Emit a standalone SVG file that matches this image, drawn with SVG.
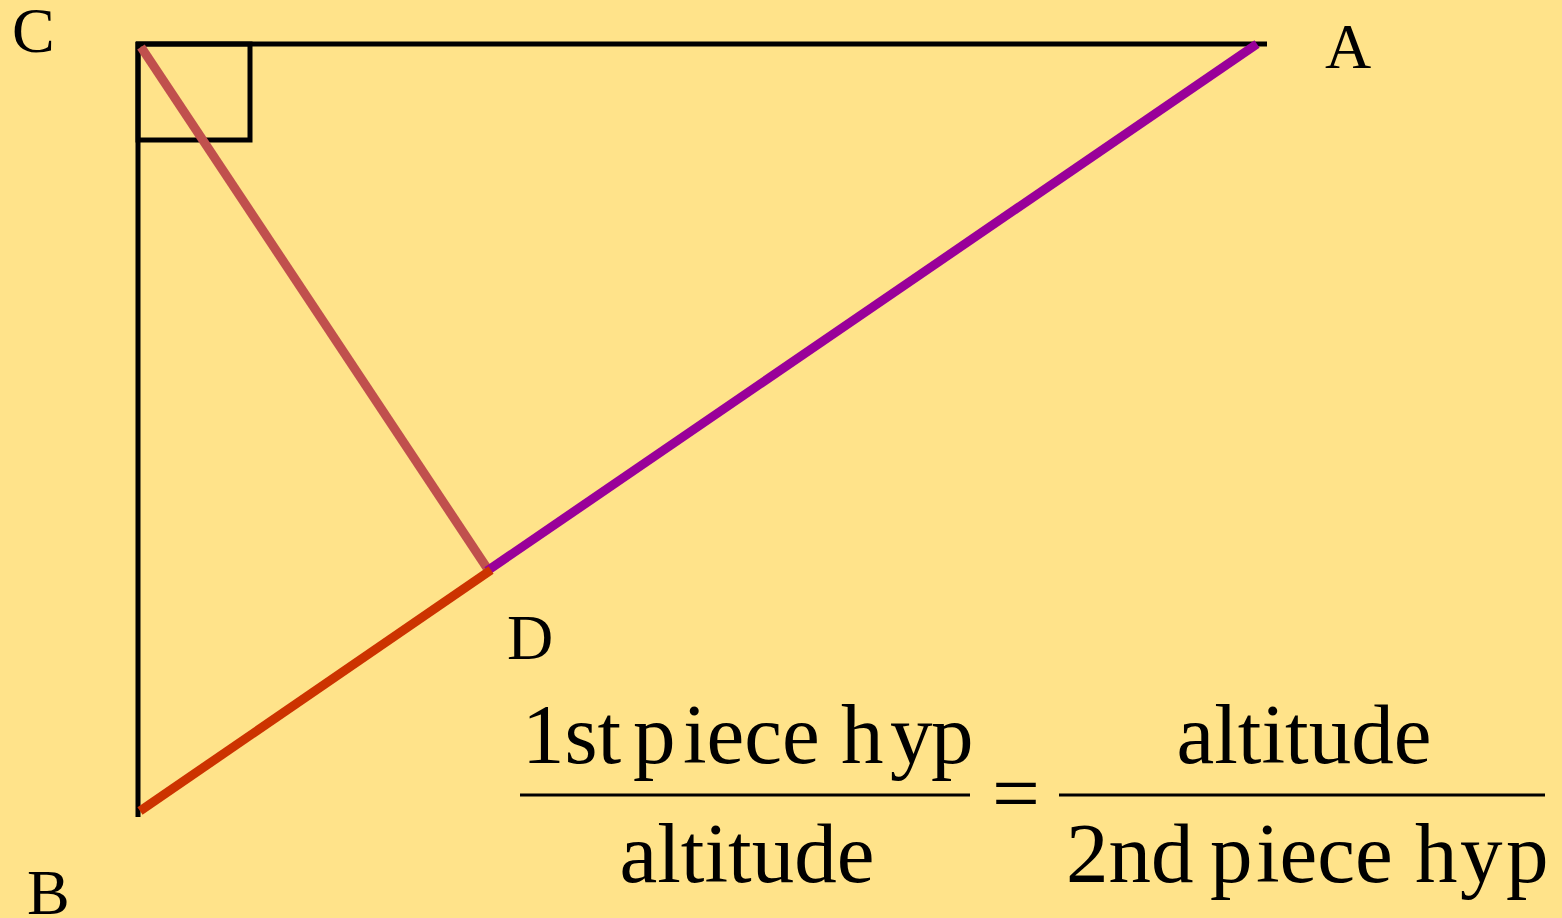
<svg xmlns="http://www.w3.org/2000/svg" width="1562" height="918" viewBox="0 0 1562 918">
<style>
.lbl{font-family:"Liberation Serif","Times New Roman",serif;font-size:64px;fill:#000}
.eq{font-family:"Liberation Serif","Times New Roman",serif;font-size:85px;fill:#000}
.blk{stroke:#000;stroke-width:5;fill:none}
.seg{stroke-width:9;fill:none}
</style>
<rect x="0" y="0" width="1562" height="918" fill="#FFE38A"/>
<g id="triangle">
<line class="blk" x1="136" y1="44" x2="1267" y2="44"/>
<line class="blk" x1="138" y1="42" x2="138" y2="817"/>
<rect class="blk" x="138" y="44" width="112" height="96"/>
</g>
<g id="connectors">
<line class="seg" stroke="#C0504D" x1="141" y1="47" x2="489" y2="571"/>
<line class="seg" stroke="#990099" x1="487" y1="571" x2="1257" y2="44"/>
<line class="seg" stroke="#CC3300" x1="140" y1="811" x2="491" y2="570"/>
</g>
<g id="label-C"><text class="lbl" x="12" y="52">C</text></g>
<g id="label-A"><text class="lbl" x="1325" y="68">A</text></g>
<g id="label-D"><text class="lbl" x="507" y="659">D</text></g>
<g id="label-B"><text class="lbl" x="27" y="914">B</text></g>
<g id="formula">
<text class="eq" y="763"><tspan x="522">1st</tspan><tspan x="633">p</tspan><tspan x="683">iece</tspan><tspan x="841">h</tspan><tspan x="890">y</tspan><tspan x="931">p</tspan></text>
<line x1="520" y1="795" x2="970" y2="795" stroke="#000" stroke-width="3"/>
<text class="eq" x="747" y="882" text-anchor="middle">altitude</text>
<text class="eq" x="1016" y="822" text-anchor="middle">=</text>
<text class="eq" x="1304" y="763" text-anchor="middle">altitude</text>
<line x1="1059" y1="795" x2="1545" y2="795" stroke="#000" stroke-width="3"/>
<text class="eq" y="882"><tspan x="1066">2nd</tspan><tspan x="1210">p</tspan><tspan x="1256">iece</tspan><tspan x="1415">h</tspan><tspan x="1460">y</tspan><tspan x="1506">p</tspan></text>
</g>
</svg>
